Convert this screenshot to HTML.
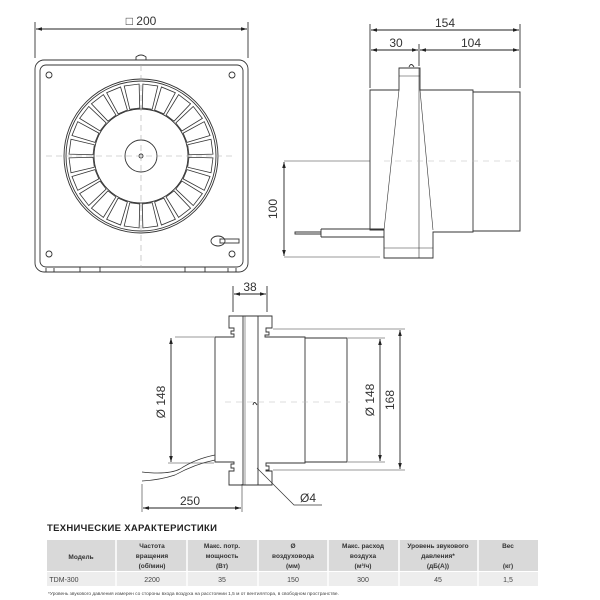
<!DOCTYPE html>
<html><head><meta charset="utf-8"><style>
html,body{margin:0;padding:0;background:#fff;}
svg{display:block;font-family:"Liberation Sans","DejaVu Sans",sans-serif;}
</style></head><body>
<svg width="600" height="600" viewBox="0 0 600 600" xmlns="http://www.w3.org/2000/svg">
<defs>
<marker id="a" viewBox="0 0 10 6" refX="10" refY="3" markerWidth="7" markerHeight="4" orient="auto-start-reverse"><path d="M0,0 L10,3 L0,6 z" fill="#222"/></marker>
<path id="bd" d="M135.98,108.26 L133.47,84.39 L148.53,84.39 L146.02,108.26 Z"/>
</defs>
<g stroke="#333" stroke-width="0.9" fill="none">
<line x1="35" y1="22" x2="35" y2="58"/><line x1="248" y1="22" x2="248" y2="58"/>
<line x1="36" y1="29" x2="247" y2="29" stroke="#222" marker-start="url(#a)" marker-end="url(#a)"/>
<rect x="35" y="60" width="213" height="212" rx="9"/>
<rect x="40" y="65" width="203" height="202" rx="6"/>
<path d="M136,60 v-3 q5,-4 10,0 v3"/>
<circle cx="49" cy="75" r="3"/><circle cx="232" cy="75" r="3"/><circle cx="49" cy="254" r="3"/><circle cx="232" cy="254" r="3"/>
<circle cx="141" cy="156" r="77"/><circle cx="141" cy="156" r="75"/>
<circle cx="141" cy="156" r="47"/><circle cx="141" cy="156" r="16"/><circle cx="141" cy="156" r="2"/>
<g stroke-width="0.8">
<use href="#bd" transform="rotate(7.5 141 156)"/><use href="#bd" transform="rotate(22.5 141 156)"/><use href="#bd" transform="rotate(37.5 141 156)"/><use href="#bd" transform="rotate(52.5 141 156)"/>
<use href="#bd" transform="rotate(67.5 141 156)"/><use href="#bd" transform="rotate(82.5 141 156)"/><use href="#bd" transform="rotate(97.5 141 156)"/><use href="#bd" transform="rotate(112.5 141 156)"/>
<use href="#bd" transform="rotate(127.5 141 156)"/><use href="#bd" transform="rotate(142.5 141 156)"/><use href="#bd" transform="rotate(157.5 141 156)"/><use href="#bd" transform="rotate(172.5 141 156)"/>
<use href="#bd" transform="rotate(187.5 141 156)"/><use href="#bd" transform="rotate(202.5 141 156)"/><use href="#bd" transform="rotate(217.5 141 156)"/><use href="#bd" transform="rotate(232.5 141 156)"/>
<use href="#bd" transform="rotate(247.5 141 156)"/><use href="#bd" transform="rotate(262.5 141 156)"/><use href="#bd" transform="rotate(277.5 141 156)"/><use href="#bd" transform="rotate(292.5 141 156)"/>
<use href="#bd" transform="rotate(307.5 141 156)"/><use href="#bd" transform="rotate(322.5 141 156)"/><use href="#bd" transform="rotate(337.5 141 156)"/><use href="#bd" transform="rotate(352.5 141 156)"/>
</g>
<line x1="46" y1="156" x2="236" y2="156" stroke="#aaa" stroke-dasharray="6,4" stroke-width="0.6"/>
<line x1="141" y1="65" x2="141" y2="268" stroke="#aaa" stroke-dasharray="6,4" stroke-width="0.6"/>
<path d="M80,272 v-5 h20 v5 M185,272 v-5 h20 v5 M46,272 v-4 M54,272 v-4 M228,272 v-4 M236,272 v-4"/>
<ellipse cx="218" cy="241" rx="7" ry="5"/><rect x="220" y="239" width="19" height="4"/>
<line x1="370" y1="24" x2="370" y2="88"/><line x1="520" y1="24" x2="520" y2="88"/><line x1="419" y1="44" x2="419" y2="66"/>
<line x1="371" y1="30" x2="519" y2="30" stroke="#222" marker-start="url(#a)" marker-end="url(#a)"/>
<line x1="371" y1="50" x2="418" y2="50" stroke="#222" marker-start="url(#a)" marker-end="url(#a)"/>
<line x1="420" y1="50" x2="519" y2="50" stroke="#222" marker-start="url(#a)" marker-end="url(#a)"/>
<path d="M399,90 H370 V230 H384 V258 H433 V232 H473 V231 H520 V92 H473 V90 H420 V68 H399 Z"/>
<line x1="473" y1="91" x2="473" y2="231"/>
<path d="M399,90 L384,230 M420,90 L433,230 M399,76 H420 M384,248 H433 M419,68 V258" stroke-width="0.6"/>
<path d="M409,67 q2,-5 5,0" />
<line x1="284" y1="161" x2="370" y2="161" stroke-width="0.6"/><line x1="284" y1="257" x2="380" y2="257" stroke-width="0.6"/>
<line x1="384" y1="161" x2="520" y2="161" stroke="#bbb" stroke-dasharray="6,5" stroke-width="0.6"/>
<line x1="284" y1="162" x2="284" y2="256" stroke="#222" marker-start="url(#a)" marker-end="url(#a)"/>
<path d="M321,229 H384 M321,237 H384 M321,229 V237 M295,232 H321 V234 H295 Z"/>
<line x1="233" y1="286" x2="233" y2="312"/><line x1="267" y1="286" x2="267" y2="312"/>
<line x1="234" y1="294" x2="266" y2="294" stroke="#222" marker-start="url(#a)" marker-end="url(#a)"/>
<path d="M229,316 H272 V328 H266 v4 h3 v3 h-4 V337 H305 V338 H347 V462 H305 V463 H266 v3 h3 v4 h-3 v1 H272 V485 H229 V471 H234 v-3 h-3 v-4 h3 V462 H215 V337 H234 V334 h-3 v-3 h3 V328 H229 Z"/>
<line x1="305" y1="338" x2="305" y2="462"/>
<line x1="243" y1="316" x2="243" y2="485"/><line x1="258" y1="316" x2="258" y2="485"/><line x1="245" y1="316" x2="245" y2="485" stroke-width="0.5"/>
<path d="M253,405 q1,-5 4,0" />
<line x1="175" y1="337" x2="214" y2="337" stroke-width="0.6"/><line x1="168" y1="463" x2="214" y2="463" stroke-width="0.6"/>
<line x1="171" y1="338" x2="171" y2="462" stroke="#222" marker-start="url(#a)" marker-end="url(#a)"/>
<line x1="348" y1="338" x2="385" y2="338" stroke-width="0.6"/><line x1="348" y1="462" x2="385" y2="462" stroke-width="0.6"/>
<line x1="380" y1="339" x2="380" y2="461" stroke="#222" marker-start="url(#a)" marker-end="url(#a)"/>
<line x1="273" y1="329" x2="405" y2="329" stroke-width="0.6"/><line x1="273" y1="470" x2="405" y2="470" stroke-width="0.6"/>
<line x1="400" y1="330" x2="400" y2="469" stroke="#222" marker-start="url(#a)" marker-end="url(#a)"/>
<line x1="225" y1="402" x2="350" y2="402" stroke="#bbb" stroke-dasharray="6,5" stroke-width="0.6"/>
<path d="M215,455 q-20,4 -35,14 q-12,6 -38,3 M215,460 q-20,4 -40,15 q-15,5 -33,6" stroke-width="0.7"/>
<line x1="142" y1="484" x2="142" y2="512" stroke-width="0.6"/><line x1="242" y1="484" x2="242" y2="512" stroke-width="0.6"/>
<line x1="143" y1="508" x2="241" y2="508" stroke="#222" marker-start="url(#a)" marker-end="url(#a)"/>
<path d="M257,468 L294,505 H322" stroke-width="0.7"/>
</g>
<g fill="#333" font-size="12">
<text x="141" y="25" text-anchor="middle">□ 200</text>
<text x="445" y="27" text-anchor="middle">154</text>
<text x="396" y="47" text-anchor="middle">30</text>
<text x="471" y="47" text-anchor="middle">104</text>
<text transform="translate(277,209) rotate(-90)" text-anchor="middle">100</text>
<text x="250" y="291" text-anchor="middle">38</text>
<text transform="translate(165,402) rotate(-90)" text-anchor="middle">Ø 148</text>
<text transform="translate(374,400) rotate(-90)" text-anchor="middle">Ø 148</text>
<text transform="translate(394,400) rotate(-90)" text-anchor="middle">168</text>
<text x="190" y="505" text-anchor="middle">250</text>
<text x="300" y="502">Ø4</text>
</g>
<text x="47" y="531" font-size="9.5" font-weight="bold" fill="#222" letter-spacing="0.3">ТЕХНИЧЕСКИЕ ХАРАКТЕРИСТИКИ</text>
<rect x="47" y="540" width="491" height="31" fill="#d9d9d9"/>
<rect x="47" y="572" width="491" height="14" fill="#ededed"/>
<g stroke="#fff" stroke-width="1.5">
<line x1="116" y1="540" x2="116" y2="586"/><line x1="187" y1="540" x2="187" y2="586"/><line x1="258" y1="540" x2="258" y2="586"/><line x1="328" y1="540" x2="328" y2="586"/><line x1="399" y1="540" x2="399" y2="586"/><line x1="478" y1="540" x2="478" y2="586"/>
</g>
<g font-size="6.5" fill="#333" text-anchor="middle" font-weight="bold">
<text x="81" y="559">Модель</text>
<text x="152" y="548">Частота</text><text x="152" y="558">вращения</text><text x="152" y="568">(об/мин)</text>
<text x="222" y="548">Макс. потр.</text><text x="222" y="558">мощность</text><text x="222" y="568">(Вт)</text>
<text x="293" y="548">Ø</text><text x="293" y="558">воздуховода</text><text x="293" y="568">(мм)</text>
<text x="363" y="548">Макс. расход</text><text x="363" y="558">воздуха</text><text x="363" y="568">(м³/ч)</text>
<text x="438" y="548">Уровень звукового</text><text x="438" y="558">давления*</text><text x="438" y="568">(дБ(А))</text>
<text x="508" y="548">Вес</text><text x="508" y="568">(кг)</text>
</g>
<g font-size="7" fill="#444" text-anchor="middle">
<text x="64" y="582">TDM-300</text><text x="152" y="582">2200</text><text x="222" y="582">35</text><text x="293" y="582">150</text><text x="363" y="582">300</text><text x="438" y="582">45</text><text x="508" y="582">1,5</text>
</g>
<text x="48" y="595" font-size="4.8" fill="#444">*Уровень звукового давления измерен со стороны входа воздуха на расстоянии 1,5 м от вентилятора, в свободном пространстве.</text>
</svg>
</body></html>
